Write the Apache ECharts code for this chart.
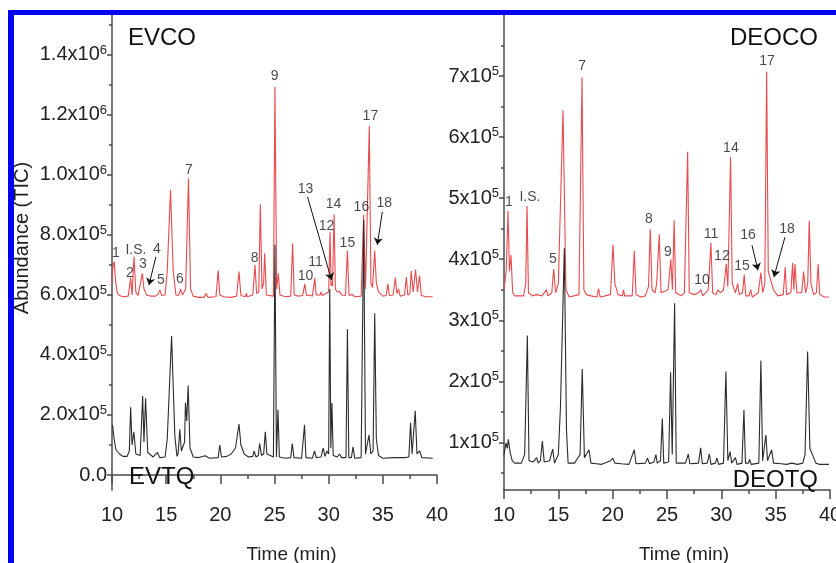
<!DOCTYPE html>
<html>
<head>
<meta charset="utf-8">
<script src="https://cdn.jsdelivr.net/npm/echarts@6/dist/echarts.min.js"></script>
<style>
  html, body { margin: 0; padding: 0; background: #fff; }
  #chart { width: 836px; height: 563px; }
</style>
</head>
<body>
<div id="chart"></div>
<script>
// chromatograms, [time (min), abundance]
const evco = [
  [10.0, 640e3], [10.1, 700e3], [10.2, 711e3], [10.35, 640e3], [10.5, 605e3], [10.7, 598e3], [11.0, 594e3],
  [11.5, 596e3], [11.72, 656e3], [11.85, 600e3], [12.03, 728e3], [12.2, 610e3], [12.4, 598e3], [12.8, 672e3],
  [12.95, 620e3], [13.05, 612e3], [13.2, 600e3], [13.6, 596e3], [14.0, 596e3], [14.25, 602e3], [14.42, 617e3],
  [14.6, 598e3], [14.9, 600e3], [15.1, 680e3], [15.4, 950e3], [15.65, 680e3], [15.9, 600e3], [16.15, 598e3],
  [16.33, 620e3], [16.5, 600e3], [16.8, 620e3], [17.06, 989e3], [17.25, 620e3], [17.5, 596e3], [18.0, 592e3],
  [18.5, 592e3], [18.7, 605e3], [18.85, 592e3], [19.6, 594e3], [19.8, 681e3], [19.95, 600e3], [20.3, 594e3],
  [21.0, 592e3], [21.5, 596e3], [21.72, 678e3], [21.9, 598e3], [22.3, 594e3], [22.4, 605e3], [22.5, 594e3],
  [23.0, 600e3], [23.2, 700e3], [23.35, 605e3], [23.55, 610e3], [23.69, 902e3], [23.85, 620e3], [24.0, 640e3],
  [24.09, 739e3], [24.25, 600e3], [24.9, 596e3], [25.04, 1294e3], [25.2, 620e3], [25.35, 672e3], [25.5, 600e3],
  [26.0, 594e3], [26.5, 596e3], [26.67, 772e3], [26.82, 600e3], [27.2, 596e3], [27.6, 598e3], [27.8, 637e3],
  [27.95, 598e3], [28.3, 600e3], [28.5, 596e3], [28.72, 656e3], [28.85, 600e3], [29.2, 600e3], [29.3, 610e3],
  [29.4, 598e3], [29.8, 606e3], [30.0, 610e3], [30.13, 811e3], [30.22, 630e3], [30.27, 640e3], [30.35, 630e3],
  [30.5, 869e3], [30.62, 620e3], [30.8, 610e3], [31.0, 612e3], [31.2, 600e3], [31.55, 598e3], [31.73, 748e3],
  [31.88, 598e3], [32.2, 602e3], [32.4, 594e3], [33.0, 596e3], [33.23, 867e3], [33.4, 620e3], [33.75, 1164e3],
  [33.9, 640e3], [34.05, 625e3], [34.25, 748e3], [34.4, 640e3], [34.6, 610e3], [35.0, 596e3], [35.3, 598e3],
  [35.47, 637e3], [35.6, 598e3], [35.95, 600e3], [36.15, 657e3], [36.3, 605e3], [36.45, 620e3], [36.6, 596e3],
  [37.0, 600e3], [37.17, 660e3], [37.3, 600e3], [37.5, 605e3], [37.62, 680e3], [37.8, 610e3], [38.02, 685e3],
  [38.2, 610e3], [38.39, 665e3], [38.55, 598e3], [39.0, 594e3], [39.6, 594e3]
]
const evtq = [
  [10.05, 167e3], [10.2, 120e3], [10.35, 85e3], [10.5, 90e3], [10.7, 70e3], [11.0, 62e3], [11.4, 62e3],
  [11.6, 80e3], [11.72, 226e3], [11.85, 100e3], [12.02, 144e3], [12.2, 70e3], [12.6, 65e3], [12.83, 263e3],
  [12.95, 110e3], [13.1, 256e3], [13.3, 75e3], [13.8, 60e3], [14.2, 75e3], [14.4, 58e3], [14.9, 60e3],
  [15.1, 120e3], [15.5, 463e3], [15.8, 130e3], [16.0, 62e3], [16.1, 70e3], [16.26, 152e3], [16.4, 80e3],
  [16.7, 110e3], [16.78, 241e3], [16.9, 180e3], [17.03, 298e3], [17.2, 90e3], [17.5, 60e3], [18.0, 58e3],
  [18.6, 64e3], [19.0, 56e3], [19.8, 58e3], [19.95, 100e3], [20.1, 60e3], [20.6, 62e3], [21.0, 70e3],
  [21.4, 90e3], [21.72, 170e3], [21.9, 100e3], [22.2, 70e3], [22.6, 60e3], [23.0, 62e3], [23.1, 80e3],
  [23.3, 60e3], [23.5, 65e3], [23.63, 105e3], [23.8, 65e3], [24.0, 70e3], [24.15, 144e3], [24.3, 70e3],
  [24.9, 60e3], [25.04, 767e3], [25.18, 60e3], [25.32, 217e3], [25.45, 60e3], [26.0, 56e3], [26.5, 58e3],
  [26.64, 105e3], [26.8, 58e3], [27.5, 56e3], [27.77, 167e3], [27.9, 58e3], [28.5, 56e3], [28.7, 80e3],
  [28.85, 58e3], [29.3, 60e3], [29.5, 90e3], [29.65, 62e3], [29.85, 80e3], [30.0, 70e3], [30.1, 620e3],
  [30.2, 90e3], [30.3, 240e3], [30.42, 65e3], [30.8, 60e3], [31.0, 70e3], [31.2, 58e3], [31.6, 58e3],
  [31.73, 486e3], [31.86, 58e3], [32.1, 58e3], [32.25, 94e3], [32.4, 56e3], [33.0, 58e3], [33.23, 850e3],
  [33.4, 70e3], [33.72, 133e3], [33.9, 70e3], [34.1, 80e3], [34.25, 539e3], [34.4, 120e3], [34.6, 65e3],
  [35.0, 56e3], [36.0, 58e3], [37.0, 58e3], [37.4, 60e3], [37.56, 174e3], [37.7, 70e3], [37.99, 214e3],
  [38.15, 70e3], [38.4, 80e3], [38.6, 58e3], [39.6, 56e3]
]
const deoco = [
  [10.0, 350e3], [10.2, 380e3], [10.37, 479e3], [10.5, 380e3], [10.64, 407e3], [10.8, 345e3], [11.0, 340e3],
  [11.8, 340e3], [12.0, 360e3], [12.12, 487e3], [12.25, 345e3], [12.6, 340e3], [13.0, 342e3], [13.5, 340e3],
  [13.9, 350e3], [14.05, 340e3], [14.4, 345e3], [14.57, 384e3], [14.75, 345e3], [15.0, 360e3], [15.43, 644e3],
  [15.7, 350e3], [16.0, 338e3], [16.9, 342e3], [17.18, 698e3], [17.35, 350e3], [17.6, 342e3], [18.0, 340e3],
  [18.55, 338e3], [18.7, 352e3], [18.85, 338e3], [19.8, 342e3], [20.03, 424e3], [20.2, 360e3], [20.5, 342e3],
  [20.9, 340e3], [21.0, 350e3], [21.1, 340e3], [21.8, 340e3], [21.99, 414e3], [22.15, 342e3], [22.6, 338e3],
  [23.0, 340e3], [23.3, 355e3], [23.46, 449e3], [23.62, 350e3], [23.9, 345e3], [24.05, 360e3], [24.29, 441e3],
  [24.45, 345e3], [25.1, 350e3], [25.35, 400e3], [25.5, 350e3], [25.66, 464e3], [25.8, 345e3], [26.3, 340e3],
  [26.6, 345e3], [26.9, 576e3], [27.05, 345e3], [27.5, 342e3], [27.9, 345e3], [28.12, 350e3], [28.3, 340e3],
  [28.8, 350e3], [29.04, 427e3], [29.2, 345e3], [29.5, 342e3], [29.7, 350e3], [29.9, 345e3], [30.2, 350e3],
  [30.45, 392e3], [30.6, 355e3], [30.85, 568e3], [31.0, 360e3], [31.3, 345e3], [31.5, 360e3], [31.65, 342e3],
  [31.95, 345e3], [32.11, 375e3], [32.25, 340e3], [32.55, 340e3], [32.7, 350e3], [32.85, 338e3], [33.4, 345e3],
  [33.64, 378e3], [33.8, 345e3], [34.0, 360e3], [34.17, 707e3], [34.32, 380e3], [34.55, 365e3], [34.8, 350e3],
  [35.2, 340e3], [35.7, 342e3], [35.88, 387e3], [36.0, 342e3], [36.4, 345e3], [36.56, 394e3], [36.67, 350e3],
  [36.78, 392e3], [36.95, 345e3], [37.4, 345e3], [37.57, 380e3], [37.75, 345e3], [37.95, 360e3], [38.09, 463e3],
  [38.25, 360e3], [38.5, 342e3], [38.75, 345e3], [38.91, 392e3], [39.05, 342e3], [39.5, 338e3], [39.9, 338e3]
]
const deotq = [
  [10.0, 80e3], [10.18, 99e3], [10.3, 90e3], [10.4, 105e3], [10.55, 85e3], [10.75, 70e3], [11.0, 66e3],
  [11.6, 66e3], [11.9, 80e3], [12.15, 275e3], [12.3, 70e3], [12.7, 68e3], [13.0, 75e3], [13.15, 66e3],
  [13.35, 70e3], [13.53, 102e3], [13.7, 68e3], [14.2, 70e3], [14.48, 89e3], [14.65, 66e3], [15.0, 80e3],
  [15.2, 160e3], [15.55, 418e3], [15.75, 120e3], [15.9, 66e3], [16.5, 66e3], [16.7, 72e3], [17.0, 80e3],
  [17.2, 220e3], [17.4, 75e3], [17.82, 88e3], [18.0, 66e3], [18.5, 65e3], [19.0, 64e3], [19.8, 70e3],
  [20.0, 74e3], [20.2, 66e3], [20.8, 65e3], [21.5, 64e3], [21.99, 88e3], [22.15, 65e3], [23.0, 66e3],
  [23.2, 74e3], [23.4, 65e3], [23.8, 68e3], [23.98, 80e3], [24.1, 66e3], [24.4, 70e3], [24.57, 139e3],
  [24.7, 66e3], [25.15, 68e3], [25.33, 215e3], [25.48, 80e3], [25.7, 328e3], [25.85, 66e3], [26.7, 66e3],
  [26.96, 81e3], [27.1, 65e3], [27.9, 66e3], [28.1, 91e3], [28.25, 65e3], [28.7, 66e3], [28.9, 81e3],
  [29.05, 64e3], [29.45, 66e3], [29.6, 74e3], [29.75, 64e3], [30.2, 66e3], [30.42, 216e3], [30.6, 70e3],
  [30.8, 85e3], [30.95, 66e3], [31.3, 75e3], [31.45, 64e3], [31.9, 66e3], [32.08, 153e3], [32.22, 66e3],
  [32.5, 66e3], [32.6, 72e3], [32.75, 64e3], [33.45, 66e3], [33.64, 234e3], [33.8, 70e3], [34.1, 112e3],
  [34.25, 70e3], [34.63, 88e3], [34.8, 66e3], [35.5, 65e3], [36.0, 64e3], [36.5, 66e3], [37.0, 64e3],
  [37.5, 66e3], [37.7, 80e3], [37.94, 249e3], [38.15, 90e3], [38.5, 75e3], [38.7, 66e3], [39.0, 64e3],
  [39.9, 64e3]
]

// peak numbers, placed in data coordinates
const evPeakNames = ['1', 'I.S.', '2', '3', '4', '5', '6', '7', '8', '9', '10', '11', '12', '13', '14', '15', '16', '17', '18']
const evPeakT = [10.37, 12.21, 11.66, 12.85, 14.14, 14.51, 16.26, 17.09, 23.17, 25.01, 27.86, 28.78, 29.8, 27.86, 30.44, 31.73, 33.02, 33.85, 35.14]
const evPeakV = [740e3, 750e3, 673e3, 703e3, 753e3, 650e3, 653e3, 1017e3, 723e3, 1330e3, 663e3, 710e3, 830e3, 953e3, 903e3, 773e3, 893e3, 1197e3, 907e3]
const evArrows = [[14.05, 727e3, 13.41, 633e3], [28.05, 927e3, 30.26, 650e3], [34.95, 877e3, 34.49, 767e3]]

const dePeakNames = ['1', 'I.S.', '5', '7', '8', '9', '10', '11', '12', '14', '15', '16', '17', '18']
const dePeakT = [10.46, 12.39, 14.51, 17.18, 23.34, 25.09, 28.22, 29.04, 30.05, 30.88, 31.9, 32.45, 34.2, 36.04]
const dePeakV = [493e3, 502e3, 400e3, 716e3, 466e3, 412e3, 366e3, 441e3, 405e3, 582e3, 389e3, 440e3, 724e3, 449e3]
const deArrows = [[32.82, 423e3, 33.37, 382e3], [35.85, 436e3, 34.84, 371e3]]

// axis ticks
const evYTicks = [0, 2e5, 4e5, 6e5, 8e5, 1e6, 1.2e6, 1.4e6]
const evYMant = ['0.0', '2.0x10', '4.0x10', '6.0x10', '8.0x10', '1.0x10', '1.2x10', '1.4x10']
const evYExp = ['', '5', '5', '5', '5', '6', '6', '6']
const evYMinor = [1e5, 3e5, 5e5, 7e5, 9e5, 1.1e6, 1.3e6, 1.5e6]
const deYTicks = [1e5, 2e5, 3e5, 4e5, 5e5, 6e5, 7e5]
const deYMant = ['1x10', '2x10', '3x10', '4x10', '5x10', '6x10', '7x10']
const deYExp = ['5', '5', '5', '5', '5', '5', '5']
const deYMinor = [0.5e5, 1.5e5, 2.5e5, 3.5e5, 4.5e5, 5.5e5, 6.5e5, 7.5e5]

const FONT = '"Liberation Sans", Arial, sans-serif'
const AXIS_COLOR = '#4a4a4a'
const RED = '#e84a4e'
const BLACK = '#2b2b2b'

function supLabel(ticks, mant, exp) {
  return function (v) {
    const i = ticks.findIndex(t => Math.abs(t - v) < 1)
    if (i < 0) return ''
    return exp[i] ? '{m|' + mant[i] + '}{e|' + exp[i] + '}' : '{m|' + mant[i] + '}'
  }
}

const richSup = {
  m: { fontSize: 20, fontFamily: FONT, color: '#222', lineHeight: 22 },
  e: { fontSize: 13, fontFamily: FONT, color: '#222', verticalAlign: 'top', lineHeight: 12, padding: [0, 0, 6, 0] }
}

function xAxisOf(grid) {
  return {
    type: 'value', gridIndex: grid, min: 10, max: 40, interval: 5,
    axisLine: { show: true, lineStyle: { color: AXIS_COLOR, width: 1.5 } },
    axisTick: { show: true, inside: false, length: 9, lineStyle: { color: AXIS_COLOR, width: 1.5 } },
    minorTick: { show: true, splitNumber: 2, length: 4, lineStyle: { color: AXIS_COLOR, width: 1.5 } },
    axisLabel: { fontSize: 20, fontFamily: FONT, color: '#222', margin: 15 },
    splitLine: { show: false },
    name: 'Time (min)', nameLocation: 'middle', nameGap: 55,
    nameTextStyle: { fontSize: 19, fontFamily: FONT, color: '#222', padding: [0, 0, 0, 34] }
  }
}

function yMajor(grid, min, max, ticks, mant, exp) {
  return {
    type: 'value', gridIndex: grid, min: min, max: max, position: 'left',
    axisLine: { show: true, lineStyle: { color: AXIS_COLOR, width: 1.5 } },
    axisTick: { show: true, length: 5, customValues: ticks, lineStyle: { color: AXIS_COLOR, width: 1.5 } },
    axisLabel: { customValues: ticks, margin: 5, formatter: supLabel(ticks, mant, exp), rich: richSup },
    splitLine: { show: false }
  }
}

function yMinor(grid, min, max, ticks) {
  return {
    type: 'value', gridIndex: grid, min: min, max: max, position: 'left', offset: 0,
    axisLine: { show: false },
    axisTick: { show: true, length: 3, customValues: ticks, lineStyle: { color: AXIS_COLOR, width: 1.5 } },
    axisLabel: { show: false },
    splitLine: { show: false }
  }
}

function trace(data, color, xi, yi) {
  return {
    type: 'line', xAxisIndex: xi, yAxisIndex: yi, data: data,
    showSymbol: false, symbol: 'none', smooth: false,
    lineStyle: { color: color, width: 1.1 }, silent: true, z: 2
  }
}

function peakLabels(names, ts, vs, arrows, xi, yi) {
  return {
    type: 'scatter', xAxisIndex: xi, yAxisIndex: yi, symbolSize: 2, silent: true, z: 5,
    itemStyle: { color: 'rgba(0,0,0,0)' },
    data: names.map((n, i) => ({ name: n, value: [ts[i], vs[i]] })),
    label: {
      show: true, position: 'inside', formatter: '{b}', fontSize: 14, fontFamily: FONT, color: '#1a1a1a'
    },
    labelLayout: { hideOverlap: false },
    markLine: {
      silent: true, symbol: ['none', 'arrow'], symbolSize: 7,
      lineStyle: { color: '#111', width: 1, type: 'solid' },
      label: { show: false },
      data: arrows.map(a => [{ coord: [a[0], a[1]] }, { coord: [a[2], a[3]] }])
    }
  }
}

const chart = echarts.init(document.getElementById('chart'), null, { renderer: 'canvas' })
chart.setOption({
  animation: false,
  backgroundColor: '#fff',
  grid: [
    { left: 112, top: 15, width: 325, height: 475, outerBoundsMode: 'none', containLabel: false },
    { left: 504, top: 15, width: 326, height: 475, outerBoundsMode: 'none', containLabel: false }
  ],
  xAxis: [xAxisOf(0), xAxisOf(1)],
  yAxis: [
    yMajor(0, -5e4, 1.533e6, evYTicks, evYMant, evYExp),
    yMinor(0, -5e4, 1.533e6, evYMinor),
    yMajor(1, 2.2e4, 8e5, deYTicks, deYMant, deYExp),
    yMinor(1, 2.2e4, 8e5, deYMinor)
  ],
  series: [
    trace(evco, RED, 0, 0),
    trace(evtq, BLACK, 0, 0),
    trace(deoco, RED, 1, 2),
    trace(deotq, BLACK, 1, 2),
    peakLabels(evPeakNames, evPeakT, evPeakV, evArrows, 0, 0),
    peakLabels(dePeakNames, dePeakT, dePeakV, deArrows, 1, 2)
  ],
  graphic: [
    { type: 'text', x: 128, y: 38, z: 10, style: { text: 'EVCO', font: '24px ' + FONT, fill: '#111', align: 'left', verticalAlign: 'middle' } },
    { type: 'text', x: 129, y: 477, z: 10, style: { text: 'EVTQ', font: '24px ' + FONT, fill: '#111', align: 'left', verticalAlign: 'middle' } },
    { type: 'text', x: 818, y: 38, z: 10, style: { text: 'DEOCO', font: '24px ' + FONT, fill: '#111', align: 'right', verticalAlign: 'middle' } },
    { type: 'text', x: 818, y: 480, z: 10, style: { text: 'DEOTQ', font: '24px ' + FONT, fill: '#111', align: 'right', verticalAlign: 'middle' } },
    { type: 'text', x: 22, y: 238, rotation: Math.PI / 2, z: 10, style: { text: 'Abundance (TIC)', font: '20px ' + FONT, fill: '#222', align: 'center', verticalAlign: 'middle' } },
    // blue frame of the original figure
    { type: 'rect', z: 100, shape: { x: 8, y: 10, width: 828, height: 5 }, style: { fill: '#0000f0' } },
    { type: 'rect', z: 100, shape: { x: 8, y: 10, width: 6, height: 553 }, style: { fill: '#0000f0' } }
  ]
})
</script>
</body>
</html>
